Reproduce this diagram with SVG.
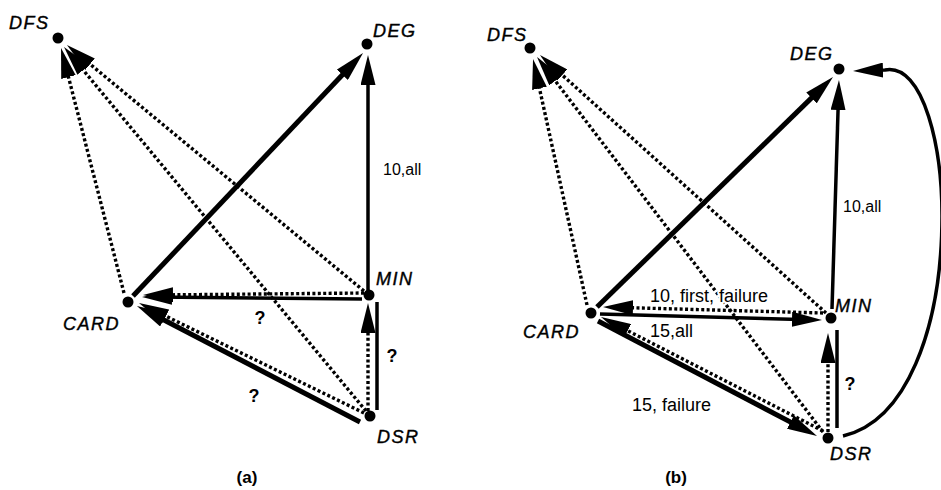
<svg xmlns="http://www.w3.org/2000/svg" width="941" height="490" viewBox="0 0 941 490">
<style>
.bg{fill:#fff}
.node{fill:#000}
.nl{font-family:"Liberation Sans",Arial,sans-serif;font-style:italic;font-size:18px;letter-spacing:1.5px;fill:#000;stroke:#000;stroke-width:0.4px}
.el{font-family:"Liberation Sans",Arial,sans-serif;font-size:16px;fill:#000;stroke:#fff;stroke-width:4px;paint-order:stroke;stroke-linejoin:round}
.q{font-family:"Liberation Sans",Arial,sans-serif;font-weight:bold;font-size:18px;fill:#000;text-anchor:middle}
.cap{font-family:"Liberation Sans",Arial,sans-serif;font-weight:bold;font-size:17px;fill:#000;text-anchor:middle}
.dot{fill:none;stroke:#000;stroke-width:3.4;stroke-dasharray:3 2.4}
.thick{fill:none;stroke:#000;stroke-width:5}
.med{fill:none;stroke:#000;stroke-width:3.5}
.arr{marker-end:url(#ah)}
</style>
<defs>
<marker id="ah" markerUnits="userSpaceOnUse" markerWidth="30" markerHeight="15" viewBox="0 0 30 15" refX="18" refY="7.5" orient="auto">
<path d="M0,0 L30,7.5 L0,15 z" fill="#000"/>
</marker>
</defs>
<rect class="bg" x="0" y="0" width="941" height="490"/>

<g id="connectors">
<!-- (a) -->
<path class="thick arr" d="M133,296 L354.8,61.7"/>
<path class="med arr" d="M368,291 L368,67"/>
<path class="dot arr" d="M124,293 L64,59.6"/>
<path class="dot arr" d="M364,291 L76.2,52.7"/>
<path class="dot arr" d="M366,411 L71.7,56.2"/>
<path class="med arr" d="M362,299 L154,297"/>
<path class="dot arr" d="M364,293 L155,295"/>
<path class="thick arr" d="M360,422 L147.6,311.5"/>
<path class="dot arr" d="M364,413 L149.8,308.3"/>
<path class="dot arr" d="M368,411 L368,315"/>
<path class="med" d="M377,410 L377,302"/>
<!-- (b) -->
<path class="thick arr" d="M597,307 L824.4,85.4"/>
<path class="med arr" d="M832,309 L838.6,92"/>
<path class="med arr" d="M843,436 C975,405 960,55 885,70 L865,70.6"/>
<path class="med arr" d="M600,314 L810,319.7"/>
<path class="dot arr" d="M823,313 L615,307.3"/>
<path class="dot arr" d="M823,431 L611.7,322.5"/>
<path class="thick arr" d="M598,321 L806.4,430.4"/>
<path class="dot arr" d="M828,432 L828,345"/>
<path class="med" d="M837,428 L837,330"/>
<path class="dot arr" d="M587,305 L535.6,70.7"/>
<path class="dot arr" d="M826,313 L548.9,63"/>
<path class="dot arr" d="M823,432 L544.3,66.5"/>
</g>

<g id="edge-labels">
<text class="el" x="383" y="175">10,all</text>
<text class="q" x="260" y="324">?</text>
<text class="q" x="392" y="362">?</text>
<text class="q" x="254" y="402">?</text>
<text class="el" x="843" y="212">10,all</text>
<text class="el" x="650" y="302" style="font-size:18px">10, first, failure</text>
<text class="el" x="650" y="337" style="font-size:18px">15,all</text>
<text class="el" x="632" y="411" style="font-size:18px">15, failure</text>
<text class="q" x="850" y="390">?</text>
</g>

<g id="a-DFS"><circle class="node" cx="58" cy="38" r="5.5"/><text class="nl" x="9" y="29">DFS</text></g>
<g id="a-DEG"><circle class="node" cx="367" cy="44" r="5.5"/><text class="nl" x="373" y="37">DEG</text></g>
<g id="a-CARD"><circle class="node" cx="128" cy="302" r="5.5"/><text class="nl" x="63" y="330">CARD</text></g>
<g id="a-MIN"><circle class="node" cx="369" cy="295" r="5.5"/><text class="nl" x="376" y="285">MIN</text></g>
<g id="a-DSR"><circle class="node" cx="370" cy="416" r="5.5"/><text class="nl" x="377" y="443">DSR</text></g>

<g id="b-DFS"><circle class="node" cx="530" cy="48" r="5.5"/><text class="nl" x="487" y="41">DFS</text></g>
<g id="b-DEG"><circle class="node" cx="839" cy="69" r="5.5"/><text class="nl" x="790" y="60">DEG</text></g>
<g id="b-CARD"><circle class="node" cx="591" cy="313" r="5.5"/><text class="nl" x="523" y="338">CARD</text></g>
<g id="b-MIN"><circle class="node" cx="831" cy="318" r="5.5"/><text class="nl" x="835" y="312">MIN</text></g>
<g id="b-DSR"><circle class="node" cx="828" cy="438" r="5.5"/><text class="nl" x="830" y="460">DSR</text></g>

<text class="cap" x="247" y="483">(a)</text>
<text class="cap" x="676" y="483">(b)</text>
</svg>
